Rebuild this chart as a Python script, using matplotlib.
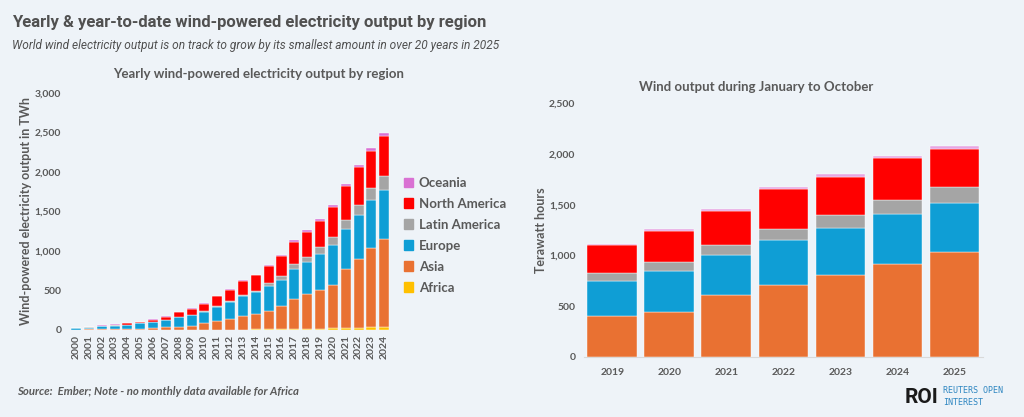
import numpy as np
import matplotlib
matplotlib.use("Agg")
import matplotlib.pyplot as plt
from matplotlib.patches import Patch

plt.rcParams['font.family'] = ['Lato', 'DejaVu Sans']

# Yearly output by region, TWh
years = [str(y) for y in range(2000, 2025)]
africa = [0.2, 0.3, 0.4, 0.5, 0.6, 0.7, 0.8, 1, 1.5, 2, 2.5, 3, 3.5, 4, 5,
          8, 10, 14, 16, 17, 18, 20, 22, 30, 32]
asia = [4, 5, 6, 7, 11, 15, 24, 32, 38, 53, 82, 107, 140, 177, 201,
        232, 297, 373, 442, 491, 545, 753, 873, 1007, 1118]
europe = [17, 24, 40, 47, 55, 68, 76, 97, 120, 130, 143, 184, 210, 247, 269,
          310, 319, 382, 403, 454, 512, 504, 558, 609, 627]
latam = [0.5, 0.5, 0.5, 1, 1, 1, 1, 1, 4, 4, 8, 13, 17, 17, 21,
         46, 54, 63, 68, 92, 105, 117, 127, 152, 168]
n_america = [7, 8, 8, 11, 16, 18, 29, 37, 57, 76, 97, 118, 140, 172, 193,
             210, 250, 285, 314, 324, 377, 423, 477, 464, 511]
oceania = [1, 1, 1, 2, 2, 3, 4, 5, 6, 7, 8, 9, 10, 11, 12,
           13, 15, 17, 19, 21, 25, 28, 32, 35, 38]

# January to October output, TWh
ytd_years = ['2019', '2020', '2021', '2022', '2023', '2024', '2025']
asia_ytd = [401, 444, 608, 707, 806, 911, 1036]
europe_ytd = [349, 405, 395, 441, 464, 497, 484]
latam_ytd = [79, 85, 99, 112, 125, 141, 154]
na_ytd = [270, 303, 339, 391, 381, 408, 378]
oceania_ytd = [16, 19, 19, 23, 23, 26, 27]

colors = {
    'Africa': '#FFC000',
    'Asia': '#E97132',
    'Europe': '#0F9ED5',
    'Latin America': '#A5A5A5',
    'North America': '#FF0000',
    'Oceania': '#D971D3',
}
bg = '#EEF3F8'
grey = '#595959'

fig = plt.figure(figsize=(10.24, 4.17), dpi=100)
fig.patch.set_facecolor(bg)

fig.text(0.012, 0.945, 'Yearly & year-to-date wind-powered electricity output by region',
         fontsize=12, fontweight='bold', color='#505050', va='center',
         family=['Roboto', 'DejaVu Sans'])
fig.text(0.012, 0.89, 'World wind electricity output is on track to grow by its smallest amount in over 20 years in 2025',
         fontsize=8.6, style='italic', color='#505050', va='center',
         family=['Roboto', 'DejaVu Sans'])


def style_axis(ax):
    ax.set_facecolor(bg)
    for s in ['top', 'right', 'left']:
        ax.spines[s].set_visible(False)
    ax.spines['bottom'].set_color('#D9D9D9')
    ax.tick_params(length=0, colors=grey)
    for lab in ax.get_xticklabels() + ax.get_yticklabels():
        lab.set_fontweight('bold')
    ax.yaxis.set_major_formatter(matplotlib.ticker.FuncFormatter(lambda v, p: f'{v:,.0f}'))


# Left: yearly stacked bars
ax1 = fig.add_axes([0.068, 0.209, 0.3135, 0.568])
x = np.arange(len(years))
bottom = np.zeros(len(years))
left_series = [('Africa', africa), ('Asia', asia), ('Europe', europe),
               ('Latin America', latam), ('North America', n_america), ('Oceania', oceania)]
for name, vals in left_series:
    ax1.bar(x, vals, 0.78, bottom=bottom, color=colors[name], edgecolor='white', linewidth=0.3)
    bottom += np.array(vals)
ax1.set_xlim(-0.5, len(years) - 0.5)
ax1.set_ylim(0, 3000)
ax1.set_yticks(range(0, 3001, 500))
ax1.set_xticks(x)
ax1.set_xticklabels(years, rotation=90, fontsize=7.5)
ax1.tick_params(axis='y', labelsize=7.5, pad=6)
ax1.set_ylabel('Wind-powered electricity output in TWh', fontsize=9, fontweight='bold',
               color=grey, labelpad=2)
ax1.set_title('Yearly wind-powered electricity output by region', fontsize=9.5,
              fontweight='bold', color=grey, pad=11, x=0.587)
style_axis(ax1)
ax1.spines['bottom'].set_visible(False)

handles = [Patch(color=colors[n]) for n, _ in reversed(left_series)]
labels = [n for n, _ in reversed(left_series)]
leg = fig.legend(handles, labels, loc='center left', bbox_to_anchor=(0.383, 0.436),
                 frameon=False, fontsize=9.5, handlelength=0.7, handleheight=0.7,
                 handletextpad=0.4, labelspacing=0.68)
for t in leg.get_texts():
    t.set_color(grey)
    t.set_fontweight('bold')

# Right: January-October stacked bars
ax2 = fig.add_axes([0.570, 0.1446, 0.390, 0.6077])
x2 = np.arange(len(ytd_years))
bottom2 = np.zeros(len(ytd_years))
right_series = [('Asia', asia_ytd), ('Europe', europe_ytd), ('Latin America', latam_ytd),
                ('North America', na_ytd), ('Oceania', oceania_ytd)]
for name, vals in right_series:
    c = '#E7A6E2' if name == 'Oceania' else colors[name]
    ax2.bar(x2, vals, 0.87, bottom=bottom2, color=c, edgecolor='white', linewidth=0.3)
    bottom2 += np.array(vals)
ax2.set_xlim(-0.5, len(ytd_years) - 0.5)
ax2.set_ylim(0, 2500)
ax2.set_yticks(range(0, 2501, 500))
ax2.set_xticks(x2)
ax2.set_xticklabels(ytd_years, fontsize=7.5)
ax2.tick_params(axis='y', labelsize=7.5, pad=6)
ax2.tick_params(axis='x', pad=8)
ax2.set_ylabel('Terawatt hours', fontsize=9, fontweight='bold', color=grey, labelpad=1)
ax2.set_title('Wind output during January to October', fontsize=9.5,
              fontweight='bold', color=grey, pad=9, x=0.4325)
style_axis(ax2)

fig.text(0.017, 0.06, 'Source:  Ember; Note - no monthly data available for Africa',
         fontsize=8.2, fontweight='bold', style='italic', color=grey, va='center')

# ROI logo
fig.text(0.883, 0.047, 'ROI', fontsize=15, fontweight='bold', color='#1A1A1A', va='center',
         family=['Roboto', 'DejaVu Sans'])
fig.text(0.921, 0.063, 'REUTERS OPEN', fontsize=6, color='#2E86C1', va='center',
         family=['DejaVu Sans Mono'])
fig.text(0.921, 0.035, 'INTEREST', fontsize=6, color='#2E86C1', va='center',
         family=['DejaVu Sans Mono'])

fig.savefig('out.png', dpi=100, facecolor=bg)
